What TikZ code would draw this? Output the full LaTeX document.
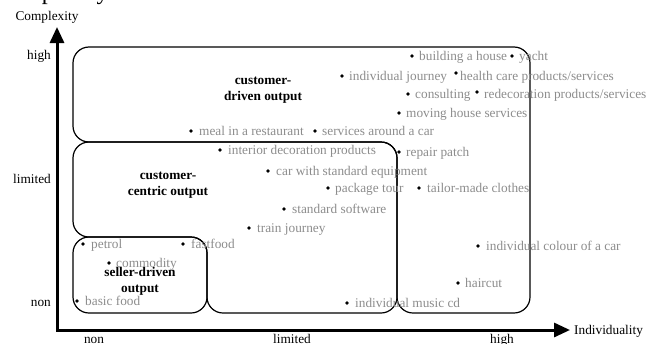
\documentclass[tikz,border=0pt]{standalone}
\usepackage{fontspec}
\setmainfont{Liberation Serif}
\usetikzlibrary{arrows.meta}
\definecolor{itemgray}{HTML}{8C8C8C}
\tikzset{
  region/.style={draw=black, line width=1.2pt, rounded corners=16pt},
  axisline/.style={line width=3pt, line join=miter, {Triangle[length=16pt,width=14pt]}-{Triangle[length=16pt,width=14pt]}},
  axislabel/.style={inner sep=0pt, font=\fontsize{13.3}{16}\selectfont},
  grouplabel/.style={inner sep=0pt, align=center, font=\fontsize{13.3}{16}\selectfont\bfseries},
  dot/.style={circle, fill=black, inner sep=0pt, minimum size=3.8pt},
  itemtext/.style={inner sep=0pt, anchor=base west, text=itemgray, font=\fontsize{13.3}{16}\selectfont},
}
\begin{document}
\begin{tikzpicture}[x=1pt,y=-1pt]
\useasboundingbox (0,0) rectangle (660,343);

% heading running off the top edge
\node[anchor=base west, inner sep=0pt, font=\fontsize{24}{28}\selectfont] (heading) at (-5,-0.5) {Complexity};

% output regions
\draw[region] (73,47) -- (530,47) -- (530,313) -- (397,313) -- (397,142) -- (73,142) -- cycle;
\draw[region] (73,142) -- (397,142) -- (397,313) -- (207,313) -- (207,237) -- (73,237) -- cycle;
\draw[region] (73,237) -- (207,237) -- (207,313) -- (73,313) -- cycle;

% axes
\coordinate (ytop) at (57,27);
\coordinate (origin) at (57,330);
\coordinate (xend) at (570,330);
\draw[axisline] (ytop) -- (origin) -- (xend);

\node[axislabel] (ytitle) at (47,17) {Complexity};
\node[axislabel, anchor=west] (xtitle) at (574,331) {Individuality};
\node[axislabel, anchor=base east] (yhigh) at (51,59) {high};
\node[axislabel, anchor=base east] (ylim) at (51,183) {limited};
\node[axislabel, anchor=base east] (ynon) at (51,306) {non};
\node[axislabel, anchor=base] (xnon) at (94,343.5) {non};
\node[axislabel, anchor=base] (xlim) at (292,343.5) {limited};
\node[axislabel, anchor=base] (xhigh) at (502,343.5) {high};

% region titles
\node[grouplabel] (cdriven) at (263,90) {customer-\\driven output};
\node[grouplabel] (ccentric) at (168,185) {customer-\\centric output};
\node[grouplabel] (sdriven) at (140,281) {seller-driven\\output};

% examples
\node[dot] (d1) at (412,56) {};  \node[itemtext] (t1) at (419,60.5) {building a house};
\node[dot] (d2) at (512,56) {};  \node[itemtext] (t2) at (519,60.5) {yacht};
\node[dot] (d3) at (342,76) {};  \node[itemtext] (t3) at (349,80.5) {individual journey};
\node[dot] (d4) at (456,73) {};  \node[itemtext] (t4) at (460,80.5) {health care products/services};
\node[dot] (d5) at (408,94) {};  \node[itemtext] (t5) at (415,98.5) {consulting};
\node[dot] (d6) at (477,92) {};  \node[itemtext] (t6) at (484,98.5) {redecoration products/services};
\node[dot] (d7) at (399,113) {}; \node[itemtext] (t7) at (406,117.5) {moving house services};
\node[dot] (d8) at (191,131) {}; \node[itemtext] (t8) at (199,135.5) {meal in a restaurant};
\node[dot] (d9) at (315,131) {}; \node[itemtext] (t9) at (322,135.5) {services around a car};
\node[dot] (d10) at (220,150) {}; \node[itemtext] (t10) at (228,154.5) {interior decoration products};
\node[dot] (d11) at (399,152) {}; \node[itemtext] (t11) at (406,156.5) {repair patch};
\node[dot] (d12) at (268,171) {}; \node[itemtext] (t12) at (276,175.5) {car with standard equipment};
\node[dot] (d13) at (328,188) {}; \node[itemtext] (t13) at (335,192.5) {package tour};
\node[dot] (d14) at (419,188) {}; \node[itemtext] (t14) at (427,192.5) {tailor-made clothes};
\node[dot] (d15) at (284,209) {}; \node[itemtext] (t15) at (292,213.5) {standard software};
\node[dot] (d16) at (249,228) {}; \node[itemtext] (t16) at (257,232.5) {train journey};
\node[dot] (d17) at (83,244) {};  \node[itemtext] (t17) at (91,248.5) {petrol};
\node[dot] (d18) at (183,244) {}; \node[itemtext] (t18) at (191,248.5) {fastfood};
\node[dot] (d19) at (109,263) {}; \node[itemtext] (t19) at (116,267.5) {commodity};
\node[dot] (d20) at (77,301) {};  \node[itemtext] (t20) at (85,305.5) {basic food};
\node[dot] (d21) at (478,246) {}; \node[itemtext] (t21) at (486,250.5) {individual colour of a car};
\node[dot] (d22) at (458,283) {}; \node[itemtext] (t22) at (465,287.5) {haircut};
\node[dot] (d23) at (347,303) {}; \node[itemtext] (t23) at (355,307.5) {individual music cd};
\end{tikzpicture}
\end{document}
